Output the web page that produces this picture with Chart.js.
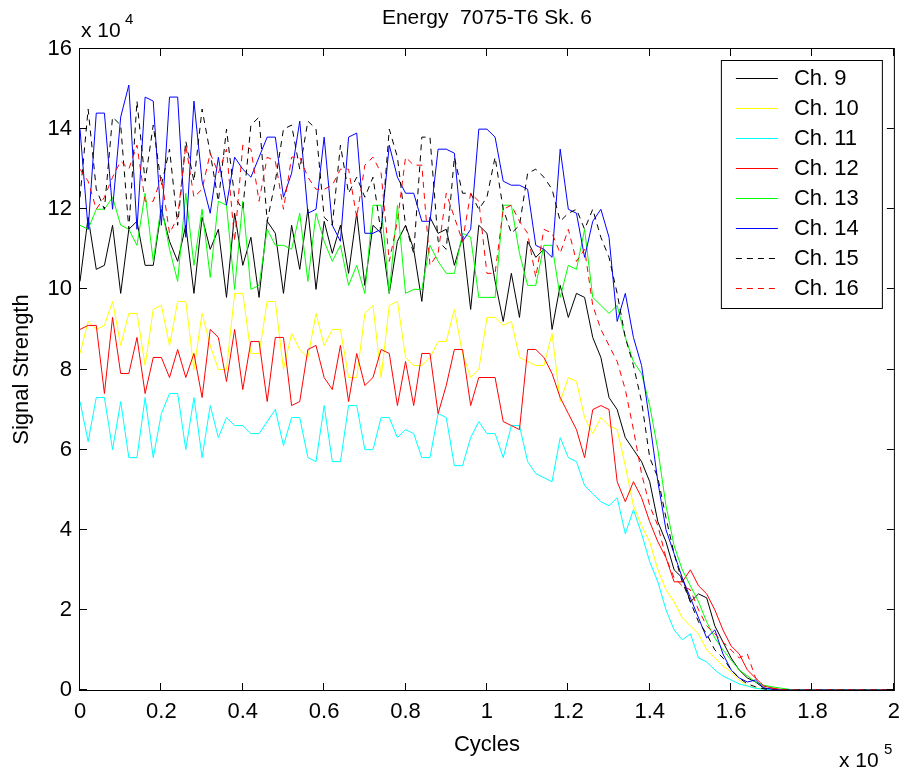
<!DOCTYPE html>
<html><head><meta charset="utf-8">
<script src="https://cdn.jsdelivr.net/npm/chart.js@4.4.1/dist/chart.umd.min.js"></script>
<style>html,body{margin:0;padding:0;background:#fff;}canvas{display:block;}</style>
</head><body>
<canvas id="c" width="909" height="774"></canvas>
<script>
// ---- texts ----
const titleText = 'Energy  7075-T6 Sk. 6';
const xAxisTitle = 'Cycles';
const yAxisTitle = 'Signal Strength';
const xMultiplierBase = 'x 10', xMultiplierExp = '5';
const yMultiplierBase = 'x 10', yMultiplierExp = '4';
const channelNames = ['Ch. 9', 'Ch. 10', 'Ch. 11', 'Ch. 12', 'Ch. 13', 'Ch. 14', 'Ch. 15', 'Ch. 16'];
const channelColors = ['#000000', '#ffff00', '#00ffff', '#ff0000', '#00ff00', '#0000ff', '#000000', '#ff0000'];
const channelDashed = [false, false, false, false, false, false, true, true];

// ---- ticks ----
const xTickValues = [0, 20000, 40000, 60000, 80000, 100000, 120000, 140000, 160000, 180000, 200000];
const xTickLabels = ['0', '0.2', '0.4', '0.6', '0.8', '1', '1.2', '1.4', '1.6', '1.8', '2'];
const yTickValues = [0, 2, 4, 6, 8, 10, 12, 14, 16];
const yTickLabels = ['0', '2', '4', '6', '8', '10', '12', '14', '16'];

// ---- sample positions (cycles, every 2000) ----
const cycles = [];
for (let i = 0; i <= 100; i++) cycles.push(i * 2000);

// ---- series values (units of 10^4) ----
const ch9 = [10.2, 11.8, 10.5, 10.6, 11.6, 9.9, 11.5, 11.7, 10.6, 10.6,
  12.0, 11.2, 10.7, 11.6, 9.9, 11.8, 11.0, 11.5, 9.8, 11.9,
  10.6, 11.3, 9.8, 11.7, 11.4, 9.9, 11.6, 10.5, 12.0, 10.0,
  11.7, 10.9, 11.6, 10.4, 11.9, 10.1, 11.6, 11.4, 9.9, 11.2,
  11.6, 11.0, 9.7, 11.8, 11.4, 11.5, 10.6, 11.3, 9.5, 11.6,
  11.4, 10.2, 9.2, 10.4, 9.3, 11.2, 10.8, 11.0, 9.0, 10.1,
  9.3, 9.9, 9.8, 8.8, 8.3, 7.3, 7.0, 6.3, 6.0, 5.7,
  5.2, 4.2, 3.7, 3.0, 2.8, 2.2, 2.4, 2.3, 1.6, 1.2,
  0.8, 0.5, 0.3, 0.2, 0.05, 0.02, 0.01, 0, 0, 0,
  0, 0, 0, 0, 0, 0, 0, 0, 0, 0, 0];
const ch10 = [8.4, 9.2, 9.0, 9.1, 9.7, 8.6, 9.4, 9.4, 8.1, 9.5,
  9.6, 8.6, 9.7, 9.7, 8.0, 9.4, 8.6, 8.0, 8.0, 9.9,
  9.9, 8.4, 8.4, 9.7, 9.7, 8.0, 8.9, 8.5, 8.3, 9.4,
  8.6, 9.0, 9.0, 7.8, 7.8, 9.4, 9.6, 7.8, 9.6, 9.7,
  8.3, 8.1, 8.1, 8.3, 8.7, 8.7, 9.5, 8.4, 7.8, 8.0,
  9.3, 9.3, 9.1, 9.2, 8.3, 8.2, 8.1, 8.1, 8.9, 7.2,
  7.8, 7.7, 6.8, 6.4, 6.8, 6.6, 6.5, 5.6, 4.6, 4.1,
  3.7, 3.0, 2.5, 2.2, 1.8, 1.6, 1.4, 1.0, 0.8, 0.6,
  0.45, 0.25, 0.1, 0.05, 0.02, 0, 0, 0, 0, 0,
  0, 0, 0, 0, 0, 0, 0, 0, 0, 0, 0];
const ch11 = [7.2, 6.2, 7.3, 7.3, 6.0, 7.2, 5.8, 5.8, 7.3, 5.8,
  6.9, 7.4, 7.4, 6.0, 7.3, 5.8, 7.1, 6.3, 6.8, 6.6,
  6.6, 6.4, 6.4, 6.7, 7.0, 6.1, 6.8, 6.8, 5.8, 5.7,
  7.1, 5.7, 5.7, 7.1, 7.1, 6.0, 6.0, 6.8, 6.8, 6.3,
  6.5, 6.4, 5.8, 5.8, 6.9, 6.8, 5.6, 5.6, 6.3, 6.7,
  6.4, 6.4, 5.8, 6.6, 6.6, 5.7, 5.4, 5.3, 5.2, 6.3,
  5.8, 5.7, 5.1, 4.9, 4.7, 4.6, 4.8, 3.9, 4.5, 3.9,
  3.2, 2.7, 2.0, 1.5, 1.25, 1.4, 0.8, 0.7, 0.5, 0.35,
  0.25, 0.15, 0.1, 0.04, 0.02, 0, 0, 0, 0, 0,
  0, 0, 0, 0, 0, 0, 0, 0, 0, 0, 0];
const ch12 = [9.0, 9.1, 9.1, 7.4, 9.3, 7.9, 7.9, 8.8, 7.4, 8.3,
  8.3, 7.8, 8.5, 7.8, 8.4, 7.3, 9.0, 8.8, 7.7, 9.0,
  7.5, 8.7, 8.7, 7.2, 8.8, 8.8, 7.1, 7.2, 8.5, 8.6,
  7.8, 7.5, 8.6, 7.2, 8.4, 7.6, 7.8, 8.5, 8.4, 7.1,
  8.2, 7.1, 8.4, 8.4, 6.9, 7.6, 8.5, 8.5, 7.1, 7.8,
  7.8, 7.8, 6.7, 6.6, 6.5, 8.5, 8.5, 8.3, 7.9, 7.3,
  6.9, 6.5, 5.8, 7.0, 7.1, 7.0, 5.2, 4.7, 5.2, 4.8,
  4.2, 3.7, 3.3, 2.7, 2.7, 3.0, 2.6, 2.4, 2.0, 1.5,
  1.1, 0.9, 0.5, 0.3, 0.1, 0.05, 0.02, 0, 0, 0,
  0, 0, 0, 0, 0, 0, 0, 0, 0, 0, 0];
const ch13 = [11.6, 11.5, 12.0, 12.0, 12.3, 11.6, 11.5, 11.1, 12.4, 10.7,
  12.1, 11.0, 10.2, 12.4, 10.6, 12.0, 10.3, 12.2, 12.1, 10.0,
  12.2, 10.0, 10.1, 11.5, 11.1, 11.1, 11.0, 11.9, 10.2, 11.9,
  11.2, 10.7, 11.1, 10.1, 10.6, 9.9, 12.1, 12.1, 9.9, 12.1,
  9.9, 10.0, 10.0, 11.1, 10.7, 10.4, 10.4, 11.4, 11.3, 9.8,
  9.8, 9.8, 12.1, 12.1, 10.9, 10.1, 10.1, 11.1, 11.1, 9.8,
  10.6, 10.5, 11.5, 9.8, 9.6, 9.4, 9.6, 8.8, 8.2, 7.9,
  7.1, 6.0, 4.6, 3.6, 3.0, 2.6, 2.2, 1.7, 1.3, 1.0,
  0.75, 0.5, 0.35, 0.2, 0.12, 0.08, 0.05, 0.02, 0, 0,
  0, 0, 0, 0, 0, 0, 0, 0, 0, 0, 0];
const ch14 = [14.0, 11.5, 14.4, 14.4, 12.0, 14.3, 15.1, 11.5, 14.8, 14.7,
  11.6, 14.8, 14.8, 11.3, 14.7, 12.7, 11.9, 13.3, 12.1, 13.3,
  13.0, 12.8, 13.3, 13.8, 13.8, 12.3, 12.9, 14.2, 11.9, 12.0,
  13.8, 11.6, 11.2, 13.8, 13.9, 11.4, 11.4, 11.5, 13.6, 12.8,
  12.4, 12.4, 11.7, 11.7, 13.5, 13.5, 13.4, 11.2, 11.5, 14.0,
  14.0, 13.8, 12.7, 12.6, 12.6, 12.5, 11.1, 11.0, 10.8, 13.5,
  12.0, 11.9, 10.8, 11.7, 12.0, 11.3, 9.2, 9.9, 8.8, 8.1,
  6.7, 5.2, 4.0, 3.4, 2.8, 2.3, 1.8, 1.3, 1.5, 0.9,
  0.5, 0.3, 0.2, 0.25, 0.05, 0.02, 0, 0, 0, 0,
  0, 0, 0, 0, 0, 0, 0, 0, 0, 0, 0];
const ch15 = [12.3, 14.5, 12.5, 12.0, 14.3, 14.1, 11.5, 14.7, 12.7, 14.1,
  12.6, 13.5, 11.6, 13.7, 12.7, 14.5, 13.4, 12.2, 14.0, 12.3,
  12.0, 14.1, 14.3, 11.7, 12.7, 14.0, 14.1, 13.0, 14.2, 14.0,
  11.8, 11.6, 13.6, 12.4, 12.8, 12.3, 12.8, 11.4, 14.0, 13.3,
  11.6, 10.9, 13.8, 13.8, 11.2, 11.0, 13.3, 12.4, 12.4, 12.0,
  12.3, 13.3, 12.0, 11.4, 11.6, 12.9, 13.0, 12.8, 12.5, 11.7,
  11.9, 12.0, 11.5, 12.0, 11.3, 10.8, 9.9, 8.8, 8.1, 7.2,
  5.8, 5.3, 4.3, 3.4, 2.7, 2.2, 1.7, 1.4, 1.0, 0.8,
  0.5, 0.3, 0.15, 0.08, 0.03, 0, 0, 0, 0, 0,
  0, 0, 0, 0, 0, 0, 0, 0, 0, 0, 0];
const ch16 = [13.0, 12.7, 12.0, 12.3, 12.8, 13.2, 13.0, 13.6, 12.2, 12.2,
  12.8, 11.4, 11.8, 13.6, 12.3, 12.5, 13.4, 12.9, 13.5, 11.2,
  13.6, 13.5, 12.2, 13.3, 13.2, 12.0, 13.3, 13.3, 12.8, 12.5,
  12.5, 12.6, 13.0, 13.0, 11.8, 13.1, 13.3, 12.9, 10.7, 11.7,
  13.3, 13.1, 13.1, 10.6, 10.9, 12.4, 11.8, 11.2, 12.4, 12.2,
  10.4, 10.4, 12.0, 12.1, 11.7, 11.4, 10.3, 11.5, 11.4, 10.9,
  11.5, 10.7, 11.0, 9.6, 9.0, 8.6, 8.2, 7.5, 6.5, 5.4,
  4.6, 4.1, 3.3, 2.8, 2.6, 2.5, 2.0, 1.6, 1.4, 1.2,
  1.0, 0.8, 0.9, 0.3, 0.1, 0.05, 0, 0, 0, 0,
  0, 0, 0, 0, 0, 0, 0, 0, 0, 0, 0];
const seriesValues = [ch9, ch10, ch11, ch12, ch13, ch14, ch15, ch16];

const FONT = '"Liberation Sans", Arial, Helvetica, sans-serif';

const datasets = seriesValues.map((vals, i) => ({
  label: channelNames[i],
  data: vals.map((v, k) => ({ x: cycles[k], y: v })),
  borderColor: channelColors[i],
  backgroundColor: channelColors[i],
  borderWidth: 1,
  borderDash: channelDashed[i] ? [6, 5] : [],
  pointRadius: 0,
  tension: 0,
  fill: false,
  clip: false,
  order: seriesValues.length - 1 - i
}));

const framePlugin = {
  id: 'frame',
  afterDatasetsDraw(chart) {
    const ctx = chart.ctx, ca = chart.chartArea;
    const xs = chart.scales.x, ys = chart.scales.y;
    ctx.save();
    ctx.strokeStyle = '#000';
    ctx.lineWidth = 1;
    ctx.setLineDash([]);
    ctx.strokeRect(ca.left - 0.5, ca.top - 0.5, ca.right - ca.left + 1, ca.bottom - ca.top + 1);
    const TL = 7;
    ctx.beginPath();
    xTickValues.forEach(v => {
      const px = Math.round(xs.getPixelForValue(v)) - 0.5;
      ctx.moveTo(px, ca.bottom); ctx.lineTo(px, ca.bottom - TL);
      ctx.moveTo(px, ca.top); ctx.lineTo(px, ca.top + TL);
    });
    yTickValues.forEach(v => {
      const py = Math.round(ys.getPixelForValue(v)) - 0.5;
      ctx.moveTo(ca.left, py); ctx.lineTo(ca.left + TL, py);
      ctx.moveTo(ca.right, py); ctx.lineTo(ca.right - TL, py);
    });
    ctx.stroke();

    // legend
    const bx = ca.right - 173, by = ca.top + 11, bw = 161, bh = 248;
    ctx.fillStyle = '#fff';
    ctx.fillRect(bx, by, bw, bh);
    ctx.strokeRect(bx + 0.5, by + 0.5, bw, bh);
    chart.data.datasets.forEach((ds, i) => {
      const y = by + 18 + i * 30;
      ctx.strokeStyle = ds.borderColor;
      ctx.setLineDash(ds.borderDash);
      ctx.beginPath();
      ctx.moveTo(bx + 15, y + 0.5); ctx.lineTo(bx + 57, y + 0.5);
      ctx.stroke();
      ctx.setLineDash([]);
      ctx.fillStyle = '#000';
      ctx.font = '22px ' + FONT;
      ctx.textAlign = 'left';
      ctx.textBaseline = 'middle';
      ctx.fillText(ds.label, bx + 73, y + 1);
    });

    // titles
    ctx.fillStyle = '#000';
    ctx.textAlign = 'center';
    ctx.textBaseline = 'middle';
    ctx.font = '21px ' + FONT;
    ctx.fillText(titleText, (ca.left + ca.right) / 2, 18);
    ctx.font = '22px ' + FONT;
    ctx.fillText(xAxisTitle, (ca.left + ca.right) / 2, 745);
    ctx.save();
    ctx.translate(22, (ca.top + ca.bottom) / 2);
    ctx.rotate(-Math.PI / 2);
    ctx.fillText(yAxisTitle, 0, 0);
    ctx.restore();

    // multipliers
    ctx.textAlign = 'left';
    ctx.textBaseline = 'alphabetic';
    ctx.font = '21px ' + FONT;
    ctx.fillText(yMultiplierBase, ca.left + 1, 37);
    ctx.font = '15px ' + FONT;
    ctx.fillText(yMultiplierExp, ca.left + 45, 24);
    ctx.font = '21px ' + FONT;
    ctx.fillText(xMultiplierBase, 839, 767);
    ctx.font = '15px ' + FONT;
    ctx.fillText(xMultiplierExp, 884, 754);
    ctx.restore();
  }
};

new Chart(document.getElementById('c'), {
  type: 'line',
  data: { datasets },
  options: {
    responsive: false,
    animation: false,
    events: [],
    layout: { padding: { top: 49, right: 12, left: 0, bottom: 0 } },
    plugins: { legend: { display: false }, title: { display: false }, tooltip: { enabled: false } },
    scales: {
      x: {
        type: 'linear', min: 0, max: 200000,
        grid: { display: false, drawTicks: false },
        border: { display: false },
        afterBuildTicks: s => { s.ticks = xTickValues.map(v => ({ value: v })); },
        afterFit: s => { s.height = 84; },
        ticks: {
          color: '#000', font: { family: FONT, size: 22 }, padding: 9, maxRotation: 0, autoSkip: false,
          callback: (v, idx) => xTickLabels[idx]
        }
      },
      y: {
        type: 'linear', min: 0, max: 16,
        grid: { display: false, drawTicks: false },
        border: { display: false },
        afterBuildTicks: s => { s.ticks = yTickValues.map(v => ({ value: v })); },
        afterFit: s => { s.width = 80; },
        ticks: {
          color: '#000', font: { family: FONT, size: 22 }, padding: 8, autoSkip: false,
          callback: (v, idx) => yTickLabels[idx]
        }
      }
    }
  },
  plugins: [framePlugin]
});
</script>
</body></html>
